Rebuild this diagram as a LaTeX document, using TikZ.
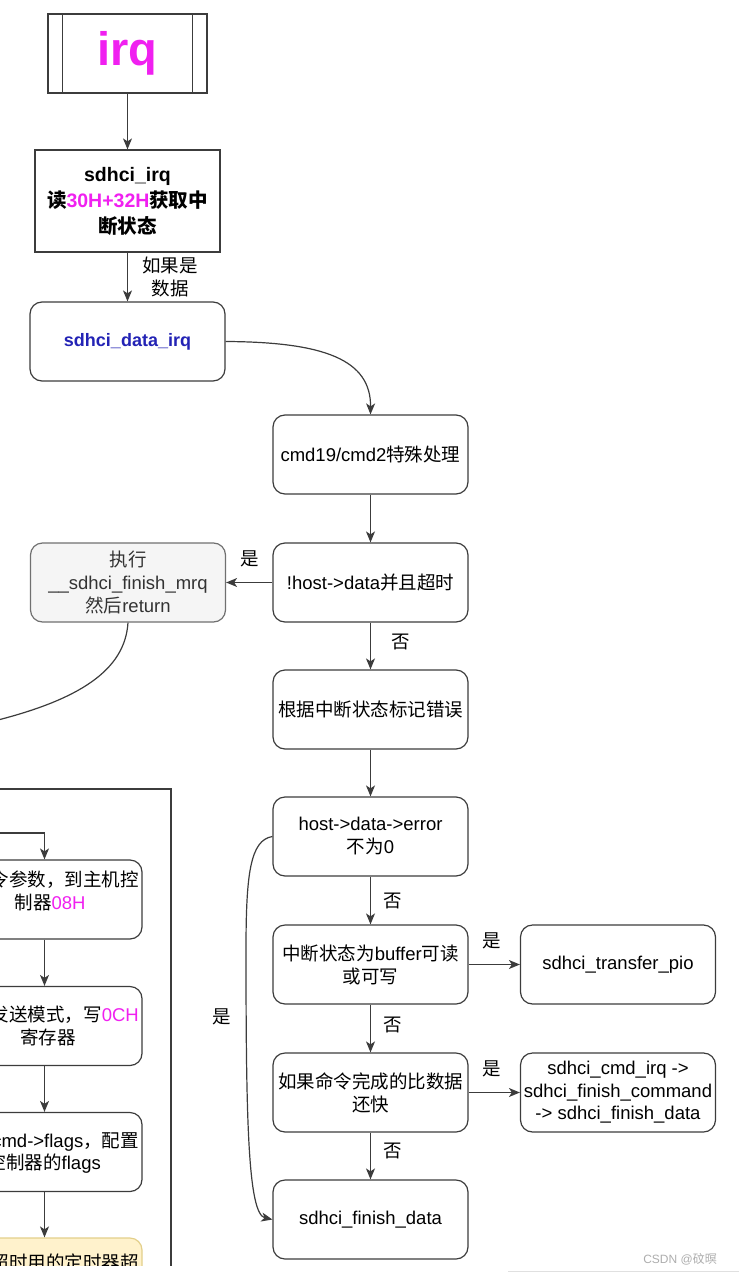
\documentclass[tikz,border=0pt]{standalone}
\usepackage{fontspec}
\setmainfont{Liberation Sans}
\newfontfamily\cjk{Noto Sans CJK SC}
\usetikzlibrary{arrows.meta}
\definecolor{edge}{HTML}{3C3C3C}
\definecolor{mag}{HTML}{F020F0}
\definecolor{dblue}{HTML}{2323B5}
\definecolor{grayfill}{HTML}{F5F5F5}
\definecolor{graydraw}{HTML}{707070}
\definecolor{yfill}{HTML}{FFF2CC}
\definecolor{ydraw}{HTML}{E3CF8A}
\newcommand\zh[1]{{\cjk #1}}
\newcommand\mg[1]{\textcolor{mag}{#1}}
\tikzset{
  box/.style={draw=edge, line width=1.2pt, rounded corners=12pt, minimum width=195pt,
    minimum height=79pt, align=center, inner xsep=2pt, fill=white,
    font=\fontsize{18.5}{23}\selectfont},
  arr/.style={draw=edge, line width=1.2pt, -{Stealth[length=11pt,width=9pt,inset=3pt]}},
  plain/.style={draw=edge, line width=1.2pt},
  lbl/.style={font=\fontsize{18.5}{23}\selectfont, inner sep=0pt, align=center},
}
\begin{document}
\begin{tikzpicture}[x=1pt,y=-1pt]
\useasboundingbox (0,0) rectangle (739,1273);
% top
\node[draw=edge, line width=1.2pt, minimum width=159pt, minimum height=79pt, inner sep=0pt]
  (irq) at (127.5,53.5) {\fontsize{47}{50}\selectfont\bfseries\textcolor{mag}{irq}};
\draw[plain] ([xshift=15pt]irq.north west) -- ([xshift=15pt]irq.south west);
\draw[plain] ([xshift=-15pt]irq.north east) -- ([xshift=-15pt]irq.south east);
\node[draw=edge, line width=1.2pt, minimum width=185pt, minimum height=102pt, align=center,
  inner sep=2pt, font=\fontsize{19.5}{26}\selectfont\bfseries]
  (sirq) at (127.5,201) {sdhci\_irq\\\zh{读}\mg{30H+32H}\zh{获取中}\\\zh{断状态}};
\node[box, font=\fontsize{18}{21}\selectfont\bfseries, text=dblue] (dirq) at (127.5,341.5) {sdhci\_data\_irq};
\draw[arr] (irq) -- (sirq);
\draw[arr] (sirq) -- (dirq);
\node[lbl] (lbldata) at (170,277.5) {\zh{如果是}\\\zh{数据}};
% right column
\node[box] (cmd) at (370.5,454.5) {cmd19/cmd2\zh{特殊处理}};
\node[box] (host) at (370.5,582.5) {!host->data\zh{并且超时}};
\node[box, fill=grayfill, draw=graydraw, text={rgb,255:red,51;green,51;blue,51}] (fin) at (128,582.5)
  {\zh{执行}\\\_\_sdhci\_finish\_mrq\\\zh{然后}return};
\node[box] (mark) at (370.5,709.5) {\zh{根据中断状态标记错误}};
\node[box] (err) at (370.5,836.5) {host->data->error\\\zh{不为}0};
\node[box] (buf) at (370.5,964.5) {\zh{中断状态为}buffer\zh{可读}\\\zh{或可写}};
\node[box] (pio) at (618,964.5) {sdhci\_transfer\_pio};
\node[box] (fast) at (370.5,1092.5) {\zh{如果命令完成的比数据}\\\zh{还快}};
\node[box, font=\fontsize{18.5}{22.5}\selectfont] (cirq) at (618,1092.5)
  {sdhci\_cmd\_irq ->\\sdhci\_finish\_command\\-> sdhci\_finish\_data};
\node[box] (fdata) at (370.5,1219.5) {sdhci\_finish\_data};

\draw[arr] (dirq.east) .. controls (325,342) and (371,360) .. (cmd.north);
\draw[arr] (cmd) -- (host);
\draw[arr] (host) -- (fin);
\draw[arr] (host) -- (mark);
\draw[arr] (mark) -- (err);
\draw[arr] (err) -- (buf);
\draw[arr] (buf) -- (pio);
\draw[arr] (buf) -- (fast);
\draw[arr] (fast) -- (cirq);
\draw[arr] (fast) -- (fdata);
\draw[arr] (err.west) .. controls (250,840) and (246,875) .. (246,950)
  .. controls (246,1120) and (248,1214) .. (fdata.west);
\node[lbl] (l1) at (250,559) {\zh{是}};
\node[lbl] (l2) at (401,642) {\zh{否}};
\node[lbl] (l3) at (393,901) {\zh{否}};
\node[lbl] (l4) at (492,941) {\zh{是}};
\node[lbl] (l5) at (393,1025) {\zh{否}};
\node[lbl] (l6) at (492,1069) {\zh{是}};
\node[lbl] (l7) at (393,1151) {\zh{否}};
\node[lbl] (l8) at (222,1017) {\zh{是}};

% left partial panel
\begin{scope}
\clip (0,600) rectangle (230,1265);
\coordinate (gout) at (-10,722);
\draw[plain] (fin.south) .. controls (125,670) and (80,700) .. (gout);
\draw[plain] (-60,789) -- (171,789) -- (171,1300);
\node[box] (pa) at (44.5,899.5) {};
\node[box] (pb) at (44.5,1026) {};
\node[box] (pc) at (44.5,1152) {};
\node[box, fill=yfill, draw=ydraw] (pd) at (44.5,1277.5) {};
\coordinate (pin) at (-20,833);
\draw[arr] (pin) -| (pa.north);
\draw[arr] (pa) -- (pb);
\draw[arr] (pb) -- (pc);
\draw[arr] (pc) -- (pd);
\node[lbl, anchor=east] (pa1) at (139,880) {\zh{令参数，到主机控}};
\node[lbl] (pa2) at (50,902) {\zh{制器}\mg{08H}};
\node[lbl, anchor=east] (pb1) at (139,1015) {\zh{发送模式，写}\mg{0CH}};
\node[lbl] (pb2) at (48,1037) {\zh{寄存器}};
\node[lbl, anchor=east] (pc1) at (139,1142) {cmd->flags\zh{，配置}};
\node[lbl, anchor=east] (pc2) at (101,1164) {\zh{控制器的}flags};
\node[lbl, anchor=east] (pd1) at (139,1262) {\zh{超时用的定时器超}};
\end{scope}

% footer
\draw[black!12, line width=1pt] (508,1271) -- (739,1271);
\node[font=\fontsize{12}{14}\selectfont, text=black!32, inner sep=0pt] (wm) at (680,1259) {CSDN @\zh{砇暝}};
\end{tikzpicture}
\end{document}
